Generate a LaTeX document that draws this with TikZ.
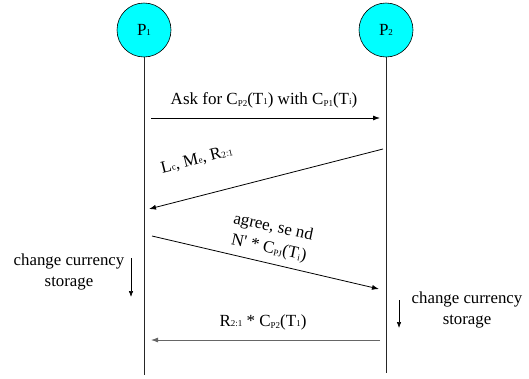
\documentclass[tikz,border=0pt]{standalone}
\usepackage{fontspec}
\setmainfont{Liberation Serif}
\usetikzlibrary{arrows.meta}
\newcommand\lsub[1]{\raisebox{-2.5pt}{\fontsize{9}{9}\selectfont #1}}
\newcommand\bsub[1]{{\fontsize{9}{9}\selectfont #1}}
\definecolor{proccyan}{RGB}{0,255,255}
\tikzset{
  proc/.style={circle, draw=black, line width=0.6pt, fill=proccyan, minimum size=54pt, inner sep=0pt, font=\fontsize{17}{19}\selectfont},
  life/.style={line width=0.8pt, draw=black!85},
  msg/.style={line width=0.8pt, -{Latex[length=7pt,width=5pt]}},
  lbl/.style={font=\fontsize{17}{19}\selectfont, inner sep=0pt, align=center},
  note/.style={font=\fontsize{16.8}{20.5}\selectfont, inner sep=0pt, align=center},
  act/.style={line width=0.6pt, -{Latex[length=6pt,width=4.5pt]}}
}
\begin{document}
\begin{tikzpicture}[x=1pt,y=-1pt]
\path[use as bounding box] (0,0) rectangle (529,378);
\node[proc] (p1) at (144,30) {P\bsub{1}};
\node[proc] (p2) at (386,30) {P\bsub{2}};
\coordinate (p1end) at (144,375);
\coordinate (p2end) at (386,373);
\draw[life] (p1.south) -- (p1end);
\draw[life] (p2.south) -- (p2end);
% message 1
\coordinate (m1s) at (151,118);
\coordinate (m1e) at (380,118);
\draw[msg] (m1s) -- (m1e);
\node[lbl] (l1) at (264,100) {Ask for C\lsub{P2}(T\bsub{1}) with C\lsub{P1}(T\bsub{i})};
% message 2
\coordinate (m2s) at (383,149);
\coordinate (m2e) at (149,209);
\draw[msg] (m2s) -- (m2e);
\node[lbl, rotate=14] (l2) at (197,160) {L\bsub{c}, M\bsub{e}, R\bsub{2:1}};
% message 3
\coordinate (m3s) at (152,236);
\coordinate (m3e) at (379,289);
\draw[msg] (m3s) -- (m3e);
\node[lbl, rotate=-12] (l3) at (271,238) {agree, se nd\\[2pt] N\textquotesingle{} * C\lsub{PJ}(T\lsub{i})};
% change currency left
\node[note] (c1) at (69,272) {change currency\\storage};
\coordinate (a1s) at (131,258);
\coordinate (a1e) at (131,297);
\draw[act] (a1s) -- (a1e);
% change currency right
\node[note] (c2) at (467,310) {change currency\\storage};
\coordinate (a2s) at (399,300);
\coordinate (a2e) at (399,328);
\draw[act] (a2s) -- (a2e);
% message 4
\coordinate (m4s) at (380,340);
\coordinate (m4e) at (151,340);
\draw[msg, draw=black!60] (m4s) -- (m4e);
\node[lbl] (l4) at (263,322) {R\bsub{2:1} * C\lsub{P2}(T\bsub{1})};
\end{tikzpicture}
\end{document}
